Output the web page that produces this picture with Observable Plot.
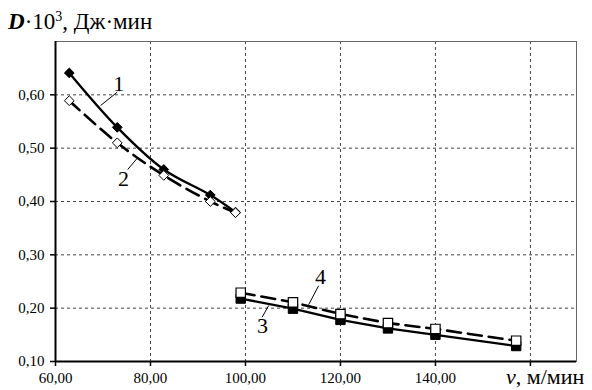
<!DOCTYPE html>
<html><head><meta charset="utf-8">
<script src="https://cdn.jsdelivr.net/npm/d3@7"></script>
<script src="https://cdn.jsdelivr.net/npm/@observablehq/plot@0.6"></script>
<style>
body{margin:0;background:#fff;}
#wrap{position:relative;width:592px;height:390px;font-family:"Liberation Serif","Times New Roman",serif;color:#000;}
#title{position:absolute;left:8px;top:9px;font-size:23px;line-height:26px;white-space:nowrap;}
#title sup{font-size:14px;vertical-align:top;position:relative;top:-5px;}
#xlabel{position:absolute;left:506px;top:366px;font-size:22px;line-height:22px;white-space:nowrap;}
#chart{position:absolute;left:0;top:0;}
#chart svg{font-family:"Liberation Serif","Times New Roman",serif !important;}
</style></head><body>
<div id="wrap"><div id="chart"></div>
<div id="title"><b><i>D</i></b>·10<sup>3</sup>, Дж·мин</div>
<div id="xlabel"><i>v</i>, м/мин</div></div>
<script>
// Data
const v12 = [62.9, 73, 82.8, 92.6, 97.9];
const series1 = [0.641, 0.539, 0.46, 0.412, 0.38];
const series2 = [0.589, 0.51, 0.449, 0.40, 0.379];
const v34 = [99, 110, 120, 130, 140, 157];
const series3 = [0.218, 0.199, 0.178, 0.162, 0.150, 0.129];
const series4 = [0.229, 0.211, 0.189, 0.172, 0.161, 0.139];
const xTicks = [60, 80, 100, 120, 140, 160];
const yTicks = [0.10, 0.20, 0.30, 0.40, 0.50, 0.60];
const labelNames = ["1", "2", "3", "4"];
const labelX = [73.3, 74.3, 103.6, 115.8];
const labelY = [0.62, 0.442, 0.167, 0.259];
const leaderX1 = [73.0, 75.2, 103.5, 115.4];
const leaderY1 = [0.605, 0.460, 0.183, 0.242];
const leaderX2 = [69.5, 77.2, 104.9, 113.3];
const leaderY2 = [0.580, 0.481, 0.205, 0.2065];

const s1 = v12.map((x, i) => ({x, y: series1[i]}));
const s2 = v12.map((x, i) => ({x, y: series2[i]}));
const s3 = v34.map((x, i) => ({x, y: series3[i]}));
const s4 = v34.map((x, i) => ({x, y: series4[i]}));
const labels = labelNames.map((t, i) => ({t, x: labelX[i], y: labelY[i]}));
const leaders = labelNames.map((t, i) => ({x1: leaderX1[i], y1: leaderY1[i], x2: leaderX2[i], y2: leaderY2[i]}));
const fmt = d => d.toFixed(2).replace(".", ",");

const chart = Plot.plot({
  width: 592, height: 390,
  marginLeft: 55, marginRight: 16, marginTop: 41, marginBottom: 29,
  style: {fontFamily: "'Liberation Serif','Times New Roman',serif", fontSize: "15px", background: "#fff", color: "#000"},
  x: {domain: [60, 169.7]},
  y: {domain: [0.10, 0.70]},
  marks: [
    Plot.gridX(xTicks.slice(1), {stroke: "#444", strokeOpacity: 1, strokeDasharray: "3,3", strokeWidth: 1}),
    Plot.gridY(yTicks.slice(1), {stroke: "#444", strokeOpacity: 1, strokeDasharray: "3,3", strokeWidth: 1}),
    Plot.frame({stroke: "#666", strokeWidth: 1}),
    Plot.axisX(xTicks, {tickSize: 5, tickPadding: 6, tickFormat: d => d === 160 ? "" : fmt(d), fontSize: 15, strokeWidth: 1.5}),
    Plot.axisY(yTicks, {tickSize: 5, tickPadding: 6, tickFormat: fmt, fontSize: 15, strokeWidth: 1.5}),
    Plot.ruleX([60], {stroke: "#000", strokeWidth: 2}),
    Plot.ruleY([0.10], {stroke: "#000", strokeWidth: 2}),
    Plot.line(s1, {x: "x", y: "y", stroke: "#000", strokeWidth: 2.3, curve: "catmull-rom"}),
    Plot.line(s2, {x: "x", y: "y", stroke: "#000", strokeWidth: 2.6, strokeDasharray: "14,7", curve: "catmull-rom"}),
    Plot.line(s3, {x: "x", y: "y", stroke: "#000", strokeWidth: 2.3}),
    Plot.line(s4, {x: "x", y: "y", stroke: "#000", strokeWidth: 2.6, strokeDasharray: "14,7"}),
    Plot.dot(s1, {x: "x", y: "y", symbol: "diamond2", r: 4.4, fill: "#000", stroke: "#000", strokeWidth: 1}),
    Plot.dot(s2, {x: "x", y: "y", symbol: "diamond2", r: 4.4, fill: "#fff", stroke: "#000", strokeWidth: 1}),
    Plot.dot(s3, {x: "x", y: "y", symbol: "square", r: 5.3, fill: "#000", stroke: "#000", strokeWidth: 1}),
    Plot.dot(s4, {x: "x", y: "y", symbol: "square", r: 5.3, fill: "#fff", stroke: "#000", strokeWidth: 1.2}),
    Plot.link(leaders, {x1: "x1", y1: "y1", x2: "x2", y2: "y2", stroke: "#000", strokeWidth: 1}),
    Plot.text(labels, {x: "x", y: "y", text: "t", fontSize: 22, fill: "#000", lineAnchor: "middle", textAnchor: "middle"})
  ]
});
document.getElementById("chart").appendChild(chart);
</script>
</body></html>
